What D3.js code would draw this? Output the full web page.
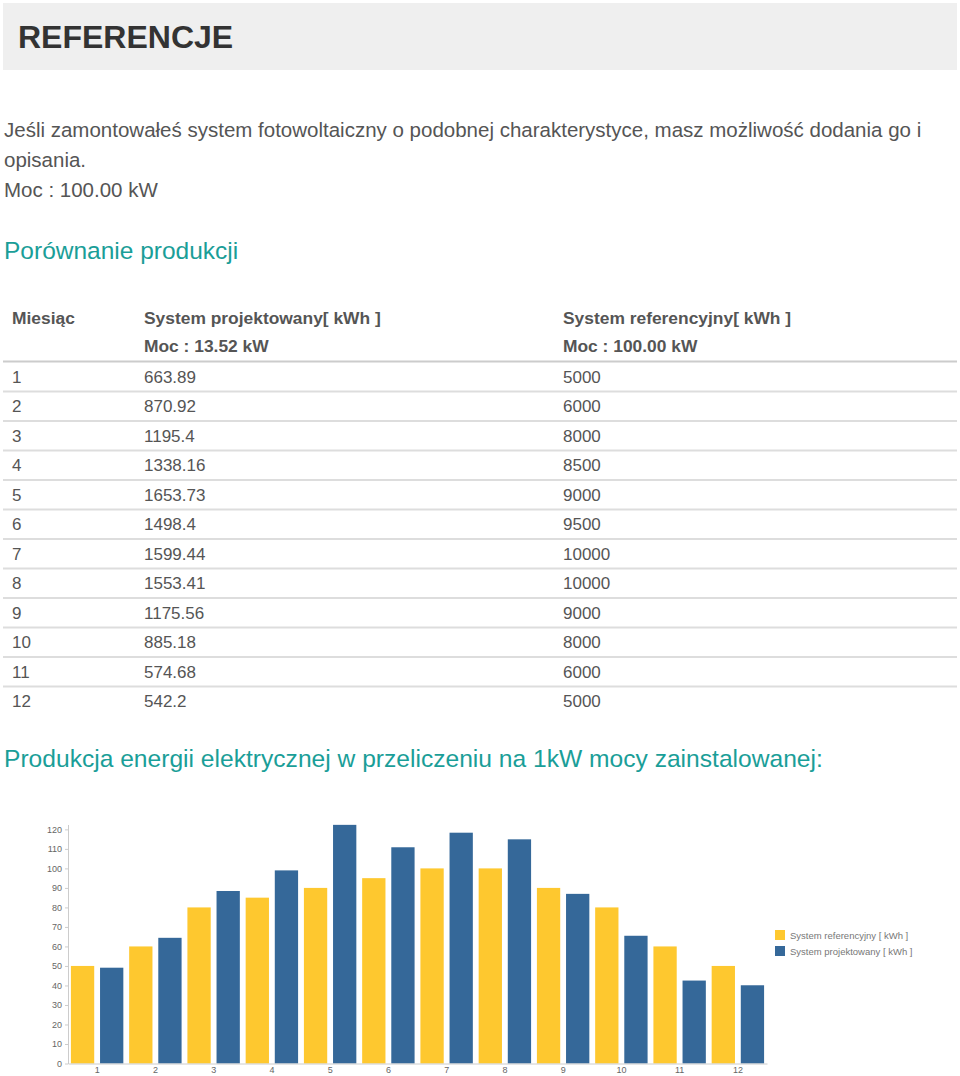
<!DOCTYPE html>
<html>
<head>
<meta charset="utf-8">
<script src="https://cdn.jsdelivr.net/npm/d3@7"></script>
<style>
  body { margin: 0; background: #fff; }
  #page { font-family: "Liberation Sans", Arial, sans-serif; }
  .axis text { font-family: "Liberation Sans", Arial, sans-serif; font-size: 9px; fill: #666; }
  .axis path, .axis line { stroke: #ccc; }
</style>
</head>
<body>
<svg id="page" width="960" height="1076"></svg>
<script>
var months = ["1", "2", "3", "4", "5", "6", "7", "8", "9", "10", "11", "12"];
var projected = ["663.89", "870.92", "1195.4", "1338.16", "1653.73", "1498.4", "1599.44", "1553.41", "1175.56", "885.18", "574.68", "542.2"];
var reference = ["5000", "6000", "8000", "8500", "9000", "9500", "10000", "10000", "9000", "8000", "6000", "5000"];

// production per 1 kW installed (values from the table / installed power)
var refPerKw = [50, 60, 80, 85, 90, 95, 100, 100, 90, 80, 60, 50];
var projPerKw = [49.10, 64.42, 88.42, 98.98, 122.32, 110.83, 118.30, 114.90, 86.95, 65.47, 42.51, 40.10];

var yTicks = [0, 10, 20, 30, 40, 50, 60, 70, 80, 90, 100, 110, 120];
var seriesNames = ["System referencyjny [ kWh ]", "System projektowany [ kWh ]"];

var color = {
  "ref": "#fec82f",
  "proj": "#356899"
};
var teal = "#1a9e98",
    textGray = "#555";

var svg = d3.select("#page");

// header box
svg.append("rect")
    .attr("x", 3).attr("y", 3).attr("width", 954).attr("height", 67)
    .attr("fill", "#efefef");
svg.append("text")
    .attr("x", 18).attr("y", 48)
    .attr("font-size", 32).attr("font-weight", "bold").attr("fill", "#333")
    .text("REFERENCJE");

// intro paragraph
var intro = ["Jeśli zamontowałeś system fotowoltaiczny o podobnej charakterystyce, masz możliwość dodania go i",
             "opisania.",
             "Moc : 100.00 kW"];
svg.selectAll(".intro")
  .data(intro)
  .enter().append("text")
    .attr("class", "intro")
    .attr("x", 4)
    .attr("y", function(d, i) { return 137 + i * 30; })
    .attr("font-size", 20.5).attr("fill", textGray)
    .text(function(d) { return d; });

svg.append("text")
    .attr("x", 4).attr("y", 259)
    .attr("font-size", 24.5).attr("fill", teal)
    .text("Porównanie produkcji");

// table
var colX = [12, 144, 563];
var head1 = ["Miesiąc", "System projektowany[ kWh ]", "System referencyjny[ kWh ]"];
var head2 = ["", "Moc : 13.52 kW", "Moc : 100.00 kW"];

[head1, head2].forEach(function(row, r) {
  svg.selectAll(".head" + r)
    .data(row)
    .enter().append("text")
      .attr("class", "head" + r)
      .attr("x", function(d, i) { return colX[i]; })
      .attr("y", 324 + r * 28)
      .attr("font-size", 17.4).attr("font-weight", "bold").attr("fill", textGray)
      .text(function(d) { return d; });
});

svg.append("line")
    .attr("x1", 3).attr("x2", 957).attr("y1", 361.5).attr("y2", 361.5)
    .attr("stroke", "#ccc").attr("stroke-width", 2);

var rowY = d3.scaleBand().domain(months).range([362, 716]);

var rows = svg.selectAll(".row")
  .data(months)
  .enter().append("g")
    .attr("class", "row")
    .attr("transform", function(d) { return "translate(0," + rowY(d) + ")"; });

rows.append("text").attr("x", colX[0]).text(function(d) { return d; });
rows.append("text").attr("x", colX[1]).text(function(d, i) { return projected[i]; });
rows.append("text").attr("x", colX[2]).text(function(d, i) { return reference[i]; });
rows.selectAll("text")
    .attr("y", rowY.bandwidth() / 2 + 6)
    .attr("font-size", 17).attr("fill", textGray);

rows.filter(function(d, i) { return i < months.length - 1; })
  .append("line")
    .attr("x1", 3).attr("x2", 957)
    .attr("y1", rowY.bandwidth()).attr("y2", rowY.bandwidth())
    .attr("stroke", "#ddd").attr("stroke-width", 2);

svg.append("text")
    .attr("x", 4).attr("y", 767)
    .attr("font-size", 24.6).attr("fill", teal)
    .text("Produkcja energii elektrycznej w przeliczeniu na 1kW mocy zainstalowanej:");

// bar chart
var x0 = d3.scaleBand().domain(months).range([68, 767]);
var x1 = d3.scaleBand().domain(["ref", "proj"]).range([0, x0.bandwidth()])
    .paddingInner(0.2).paddingOuter(0.1);
var y = d3.scaleLinear().domain([0, 122.5]).range([1063.5, 824.5]);

var chart = svg.append("g").attr("id", "chart");

var groups = chart.selectAll(".month")
  .data(months)
  .enter().append("g")
    .attr("class", "month")
    .attr("transform", function(d) { return "translate(" + x0(d) + ",0)"; });

groups.selectAll("rect")
  .data(function(d, i) { return [{key: "ref", v: refPerKw[i]}, {key: "proj", v: projPerKw[i]}]; })
  .enter().append("rect")
    .attr("x", function(d) { return x1(d.key); })
    .attr("width", x1.bandwidth())
    .attr("y", function(d) { return y(d.v); })
    .attr("height", function(d) { return y(0) - y(d.v); })
    .attr("fill", function(d) { return color[d.key]; });

chart.append("g")
    .attr("class", "axis axis--y")
    .attr("transform", "translate(68,0)")
    .call(d3.axisLeft(y).tickValues(yTicks).tickSize(3).tickSizeOuter(0));

chart.append("g")
    .attr("class", "axis axis--x")
    .attr("transform", "translate(0,1063.5)")
    .call(d3.axisBottom(x0).tickSize(0).tickPadding(3));

// legend
var legend = chart.selectAll(".legend")
  .data(seriesNames)
  .enter().append("g")
    .attr("class", "legend")
    .attr("transform", function(d, i) { return "translate(775," + (930 + i * 16) + ")"; });

legend.append("rect")
    .attr("width", 10).attr("height", 10)
    .attr("fill", function(d, i) { return i === 0 ? color.ref : color.proj; });
legend.append("text")
    .attr("x", 15).attr("y", 8.5)
    .attr("font-size", 9.5).attr("fill", "#777")
    .text(function(d) { return d; });
</script>
</body>
</html>
